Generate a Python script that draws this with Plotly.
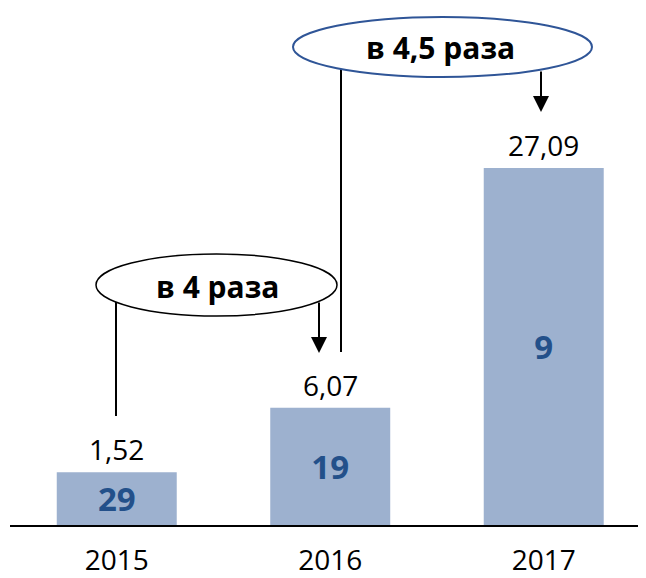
import plotly.graph_objects as go

# ---- data ----
years = ["2015", "2016", "2017"]
values = [1.52, 6.07, 27.09]            # value labels above bars
value_labels = ["1,52", "6,07", "27,09"]
ranks = ["29", "19", "9"]               # labels inside bars
bar_heights = [4.0, 8.9, 27.09]         # visual bar heights as drawn in the picture
growth_labels = ["в 4 раза", "в 4,5 раза"]

# ---- layout helpers (page pixel -> axis/paper coordinates) ----
OFF = 8                      # default page body margin
W, H = 646 - OFF, 578 - OFF
ML, MR, MT, MB = 2, 0, 0, 53
PLOT_H = H - MT - MB
Y_MAX = 27.09 / 357 * PLOT_H
X0, X1 = -0.5, 2.479
def px2x(px):
    return X0 + (px - OFF - ML) / (W - ML - MR) * (X1 - X0)
def py2y(py):
    return 1 - (py - OFF - MT) / PLOT_H

BAR_COLOR = "#9DB1CF"
RANK_COLOR = "#23508A"
FONT = "Open Sans"

fig = go.Figure()
fig.add_trace(go.Bar(
    x=list(range(len(years))),
    y=bar_heights,
    width=0.562,
    marker=dict(color=BAR_COLOR, line=dict(width=0)),
    text=ranks,
    textposition="inside",
    insidetextanchor="middle",
    textfont=dict(family=FONT, size=33, color=RANK_COLOR, weight="bold"),
    hoverinfo="skip",
))

shapes = []
annotations = []

# value labels above bars
for i, (lab, h) in enumerate(zip(value_labels, bar_heights)):
    annotations.append(dict(x=i, y=h, xref="x", yref="y", text=lab, showarrow=False,
                            xanchor="center", yanchor="middle", yshift=23,
                            font=dict(family=FONT, size=28, color="#000000")))

# connector lines (drawn before ellipses so ellipses cover them)
shapes.append(dict(type="line", xref="x", yref="paper",
                   x0=px2x(116), x1=px2x(116), y0=py2y(300), y1=py2y(416),
                   line=dict(color="#000000", width=2)))
shapes.append(dict(type="line", xref="x", yref="paper",
                   x0=px2x(341), x1=px2x(341), y0=py2y(60), y1=py2y(352),
                   line=dict(color="#000000", width=2)))

# ellipses
shapes.append(dict(type="circle", xref="x", yref="paper",
                   x0=px2x(96), x1=px2x(337), y0=py2y(316), y1=py2y(254),
                   fillcolor="#FFFFFF", line=dict(color="#000000", width=1.5)))
shapes.append(dict(type="circle", xref="x", yref="paper",
                   x0=px2x(293), x1=px2x(592), y0=py2y(77), y1=py2y(17),
                   fillcolor="#FFFFFF", line=dict(color="#2F5597", width=2)))

annotations.append(dict(x=px2x(218), y=py2y(286), xref="x", yref="paper",
                        xanchor="center", yanchor="middle",
                        text=growth_labels[0], showarrow=False,
                        font=dict(family=FONT, size=30, color="#000000", weight="bold")))
annotations.append(dict(x=px2x(440), y=py2y(48), xref="x", yref="paper",
                        xanchor="center", yanchor="middle",
                        text=growth_labels[1], showarrow=False,
                        font=dict(family=FONT, size=30, color="#000000", weight="bold")))

# arrows
annotations.append(dict(x=px2x(319), y=py2y(353), xref="x", yref="paper",
                        ax=0, ay=-(353 - 301), text="", showarrow=True,
                        arrowhead=2, arrowsize=1.6, arrowwidth=2, arrowcolor="#000000"))
annotations.append(dict(x=px2x(541), y=py2y(112), xref="x", yref="paper",
                        ax=0, ay=-(112 - 70), text="", showarrow=True,
                        arrowhead=2, arrowsize=1.6, arrowwidth=2, arrowcolor="#000000"))

fig.update_layout(
    width=W, height=H,
    margin=dict(l=ML, r=MR, t=MT, b=MB, autoexpand=False),
    paper_bgcolor="#FFFFFF", plot_bgcolor="#FFFFFF",
    showlegend=False,
    shapes=shapes,
    annotations=annotations,
    uniformtext=dict(minsize=33, mode="show"),
    xaxis=dict(range=[X0, X1], tickmode="array", tickvals=list(range(len(years))),
               ticktext=years, showline=True, linecolor="#000000", linewidth=2,
               showgrid=False, zeroline=False, ticks="", ticklabelstandoff=9,
               automargin=False,
               tickfont=dict(family=FONT, size=28, color="#000000"), fixedrange=True),
    yaxis=dict(range=[0, Y_MAX], visible=False, showgrid=False, zeroline=False,
               fixedrange=True),
)

fig.write_html("out.html")
